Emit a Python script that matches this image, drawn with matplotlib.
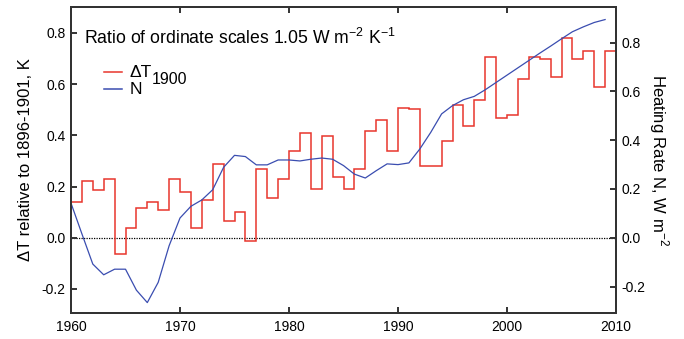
"""
Annual temperature anomaly (step) vs heating rate N on twin y-axes.
"""

import matplotlib
matplotlib.use("Agg")
import matplotlib.pyplot as plt

plt.rcParams["font.family"] = ["Liberation Sans", "DejaVu Sans"]
plt.rcParams["mathtext.fontset"] = "custom"
plt.rcParams["mathtext.rm"] = "Liberation Sans"

# Annual Delta T (K) for 1959..2009, each value spans [year, year+1)
dt_years = list(range(1959, 2011))
dt_values = [0.20, 0.14, 0.22, 0.186, 0.228, -0.064, 0.037, 0.117, 0.138, 0.108,
             0.228, 0.177, 0.037, 0.147, 0.288, 0.066, 0.099, -0.012, 0.267, 0.156,
             0.228, 0.339, 0.408, 0.189, 0.397, 0.238, 0.189, 0.267, 0.418, 0.459,
             0.339, 0.508, 0.502, 0.28, 0.28, 0.379, 0.518, 0.438, 0.54, 0.707,
             0.469, 0.478, 0.619, 0.707, 0.699, 0.629, 0.779, 0.699, 0.729, 0.59,
             0.729]

# Heating rate N (W m-2)
n_years = list(range(1960, 2010))
n_values = [0.142, 0.016, -0.108, -0.152, -0.129, -0.129, -0.215, -0.266, -0.183, -0.033,
            0.081, 0.129, 0.155, 0.197, 0.289, 0.338, 0.333, 0.299, 0.299, 0.319,
            0.319, 0.315, 0.322, 0.327, 0.322, 0.296, 0.261, 0.245, 0.275, 0.303,
            0.300, 0.307, 0.364, 0.432, 0.508, 0.542, 0.566, 0.580, 0.607, 0.637,
            0.667, 0.697, 0.727, 0.757, 0.786, 0.816, 0.845, 0.865, 0.883, 0.895]

x_ticks = [1960, 1970, 1980, 1990, 2000, 2010]
left_ticks = [-0.2, 0.0, 0.2, 0.4, 0.6, 0.8]
right_ticks = [-0.2, 0.0, 0.2, 0.4, 0.6, 0.8]

RED = "#e8352c"
BLUE = "#3a4db0"
FRAME = "#333333"

fig = plt.figure(figsize=(6.84, 3.39), dpi=100)
ax = fig.add_axes([0.1038, 0.0767, 0.7968, 0.9023])
ax2 = ax.twinx()

ylo, yhi = -0.294, 0.901
ratio = 1.05

ax.axhline(0, color="black", linestyle=(0, (1, 1)), linewidth=0.9, zorder=1)
ax.stairs(dt_values, dt_years, color=RED, linewidth=1.1, baseline=None, zorder=3)
ax2.plot(n_years, n_values, color=BLUE, linewidth=0.9, zorder=2)

ax.set_xlim(1960, 2010)
ax.set_ylim(ylo, yhi)
ax2.set_ylim(ylo * ratio, yhi * ratio)

ax.set_xticks(x_ticks)
ax.set_yticks(left_ticks)
ax.set_yticklabels([f"{v:.1f}" for v in left_ticks])
ax2.set_yticks(right_ticks)
ax2.set_yticklabels([f"{v:.1f}" for v in right_ticks])

for a in (ax, ax2):
    for sp in a.spines.values():
        sp.set_color(FRAME)
        sp.set_linewidth(1.4)
    a.tick_params(direction="in", length=4.5, width=1.4, color=FRAME,
                  labelsize=10, pad=4)
ax.tick_params(axis="x", top=True, pad=5)

ax.set_ylabel("ΔT relative to 1896-1901, K", fontsize=12, labelpad=6)
ax2.set_ylabel("Heating Rate N, W m$^{-2}$", fontsize=12, rotation=270,
               labelpad=18)

ax.text(0.024, 0.878, "Ratio of ordinate scales 1.05 W m$^{-2}$ K$^{-1}$",
        transform=ax.transAxes, fontsize=12.7, va="baseline", ha="left")

# hand-drawn legend so the subscript can be large like the original
ax.plot([0.061, 0.094], [0.787, 0.787], transform=ax.transAxes, color=RED,
        linewidth=1.1, clip_on=False)
ax.plot([0.061, 0.094], [0.731, 0.731], transform=ax.transAxes, color=BLUE,
        linewidth=1.1, clip_on=False)
t_lab = ax.text(0.108, 0.787, "ΔT", transform=ax.transAxes, fontsize=12.5,
                va="center", ha="left")
ax.annotate("1900", xy=(1, 0), xycoords=t_lab, xytext=(0, -3),
            textcoords="offset points", fontsize=11.5, va="baseline", ha="left")
ax.text(0.108, 0.731, "N", transform=ax.transAxes, fontsize=12.5,
        va="center", ha="left")

fig.savefig("out.png", dpi=100)
